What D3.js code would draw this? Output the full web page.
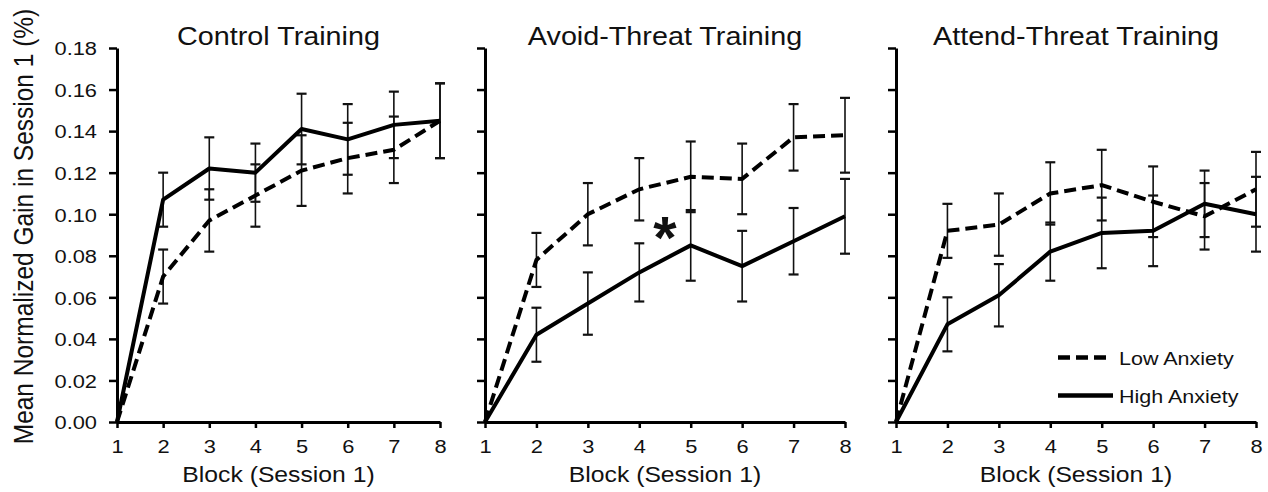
<!DOCTYPE html>
<html>
<head>
<meta charset="utf-8">
<script src="https://cdn.jsdelivr.net/npm/d3@7"></script>
<style>
  body { margin: 0; background: #fff; }
  text { font-family: "Liberation Sans", Arial, sans-serif; fill: #111; }
</style>
</head>
<body>
<script>
// values
const blocks = [1, 2, 3, 4, 5, 6, 7, 8];
const yTicks = [0, 0.02, 0.04, 0.06, 0.08, 0.10, 0.12, 0.14, 0.16, 0.18];
const panelTitles = ["Control Training", "Avoid-Threat Training", "Attend-Threat Training"];
const seriesNames = ["Low Anxiety", "High Anxiety"];

const controlLow     = [0, 0.070, 0.097, 0.109, 0.121, 0.127, 0.131, 0.145];
const controlLowErr  = [0, 0.013, 0.015, 0.015, 0.017, 0.017, 0.016, 0.018];
const controlHigh    = [0, 0.107, 0.122, 0.120, 0.141, 0.136, 0.143, 0.145];
const controlHighErr = [0, 0.013, 0.015, 0.014, 0.017, 0.017, 0.016, 0.018];

const avoidLow     = [0, 0.078, 0.100, 0.112, 0.118, 0.117, 0.137, 0.138];
const avoidLowErr  = [0, 0.013, 0.015, 0.015, 0.017, 0.017, 0.016, 0.018];
const avoidHigh    = [0, 0.042, 0.057, 0.072, 0.085, 0.075, 0.087, 0.099];
const avoidHighErr = [0, 0.013, 0.015, 0.014, 0.017, 0.017, 0.016, 0.018];

const attendLow     = [0, 0.092, 0.095, 0.110, 0.114, 0.106, 0.099, 0.112];
const attendLowErr  = [0, 0.013, 0.015, 0.015, 0.017, 0.017, 0.016, 0.018];
const attendHigh    = [0, 0.047, 0.061, 0.082, 0.091, 0.092, 0.105, 0.100];
const attendHighErr = [0, 0.013, 0.015, 0.014, 0.017, 0.017, 0.016, 0.018];

// significance marker (avoid-threat panel, between blocks 4 and 5)
const starBlock = 4.5, starValue = 0.094;

const panelData = [
  {low: controlLow, lowErr: controlLowErr, high: controlHigh, highErr: controlHighErr},
  {low: avoidLow, lowErr: avoidLowErr, high: avoidHigh, highErr: avoidHighErr},
  {low: attendLow, lowErr: attendLowErr, high: attendHigh, highErr: attendHighErr}
];

// layout
const W = 1268, H = 492;
const panelRanges = [[117, 440], [485, 845], [896, 1256]];
const SX = 1.15; // the source text is a bit wide

const svg = d3.select("body").append("svg")
    .attr("width", W)
    .attr("height", H);

const y = d3.scaleLinear().domain([0, 0.18]).range([422, 48]);

function stretch(sel) {
  sel.each(function() {
    var t = d3.select(this);
    var x = +t.attr("x") || 0;
    t.attr("x", x / SX).attr("transform", "scale(" + SX + ",1)");
  });
}

panelData.forEach(function(p, i) {
  var x = d3.scaleLinear().domain([1, 8]).range(panelRanges[i]);
  var g = svg.append("g");

  // y axis
  var yAxis = g.append("g")
      .attr("transform", "translate(" + panelRanges[i][0] + ",0)")
      .call(d3.axisLeft(y).tickValues(yTicks).tickSize(8).tickSizeOuter(0)
        .tickFormat(i === 0 ? d3.format(".2f") : ""));
  yAxis.selectAll(".tick text").attr("font-size", 19).attr("x", -20).attr("dy", "0.36em");
  stretch(yAxis.selectAll(".tick text"));

  // x axis
  var xAxis = g.append("g")
      .attr("transform", "translate(0," + y(0) + ")")
      .call(d3.axisBottom(x).tickValues(blocks).tickSize(6).tickSizeOuter(0)
        .tickFormat(d3.format("d")));
  xAxis.selectAll(".tick text").attr("font-size", 19).attr("y", 31).attr("dy", 0);
  stretch(xAxis.selectAll(".tick text"));

  g.selectAll(".domain").attr("stroke", "#000").attr("stroke-width", 3);
  g.selectAll(".tick line").attr("stroke", "#000").attr("stroke-width", 2.5);
  g.selectAll(".tick text").attr("fill", "#111");

  // error bars
  var series = [{v: p.low, e: p.lowErr}, {v: p.high, e: p.highErr}];
  series.forEach(function(s) {
    var eb = g.append("g").attr("stroke", "#111");
    blocks.forEach(function(b, j) {
      if (!s.e[j]) return;
      var cx = x(b), y0 = y(s.v[j] - s.e[j]), y1 = y(s.v[j] + s.e[j]);
      eb.append("line").attr("x1", cx).attr("x2", cx).attr("y1", y0).attr("y2", y1)
          .attr("stroke-width", 1.6);
      [y0, y1].forEach(function(yy) {
        eb.append("line").attr("x1", cx - 5).attr("x2", cx + 5).attr("y1", yy).attr("y2", yy)
            .attr("stroke-width", 2.2);
      });
    });
  });

  var line = d3.line()
      .x(function(d, j) { return x(blocks[j]); })
      .y(function(d) { return y(d); });

  g.append("path")
      .datum(p.low)
      .attr("d", line)
      .attr("fill", "none")
      .attr("stroke", "#000")
      .attr("stroke-width", 4)
      .attr("stroke-dasharray", "12,6");

  g.append("path")
      .datum(p.high)
      .attr("d", line)
      .attr("fill", "none")
      .attr("stroke", "#000")
      .attr("stroke-width", 4)
      .attr("stroke-linejoin", "round");

  // title
  g.append("text")
      .attr("transform", "translate(" + d3.mean(panelRanges[i]) + ",45) scale(" + SX + ",1)")
      .attr("text-anchor", "middle")
      .attr("font-size", 25)
      .text(panelTitles[i]);

  // x label
  g.append("text")
      .attr("transform", "translate(" + d3.mean(panelRanges[i]) + ",482) scale(" + SX + ",1)")
      .attr("text-anchor", "middle")
      .attr("font-size", 21.5)
      .text("Block (Session 1)");

  if (i === 1) {
    g.append("text")
        .attr("x", x(starBlock))
        .attr("y", y(starValue) + 31)
        .attr("text-anchor", "middle")
        .attr("font-size", 60)
        .attr("font-weight", "bold")
        .text("*");
  }

  if (i === 2) {
    var lg = g.append("g").attr("transform", "translate(1058,0)");
    [357.5, 395.5].forEach(function(ly, k) {
      lg.append("line")
          .attr("x1", 0).attr("x2", k === 0 ? 50 : 55)
          .attr("y1", ly).attr("y2", ly)
          .attr("stroke", "#000")
          .attr("stroke-width", 4.5)
          .attr("stroke-dasharray", k === 0 ? "12,6" : null);
      lg.append("text")
          .attr("transform", "translate(61," + (ly + 7) + ") scale(" + SX + ",1)")
          .attr("font-size", 18.7)
          .text(seriesNames[k]);
    });
  }
});

// y axis label
svg.append("text")
    .attr("transform", "translate(32.5,226.5) rotate(-90) scale(1,1.12)")
    .attr("text-anchor", "middle")
    .attr("font-size", 24.5)
    .text("Mean Normalized Gain in Session 1 (%)");
</script>
</body>
</html>
